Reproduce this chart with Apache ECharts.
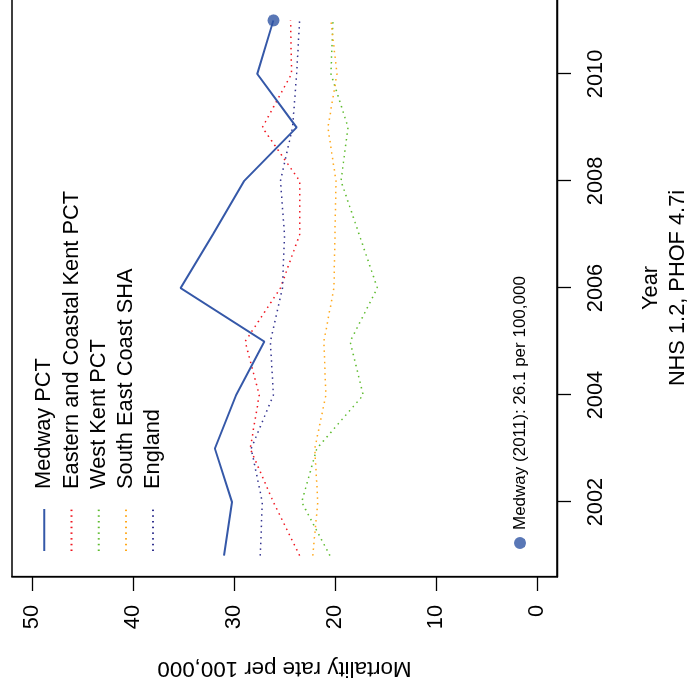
<!DOCTYPE html>
<html>
<head>
<meta charset="utf-8">
<script src="https://cdn.jsdelivr.net/npm/echarts@6/dist/echarts.min.js"></script>
<style>
  html, body { margin: 0; padding: 0; background: #ffffff; overflow: hidden; }
  body { width: 688px; height: 692px; position: relative; }
  /* The plot is laid out upright (692 x 688) and turned a quarter-turn anticlockwise */
  #chart {
    position: absolute; left: -2px; top: 2px;
    width: 692px; height: 688px;
    transform: rotate(-90deg);
    transform-origin: 50% 50%;
  }
</style>
</head>
<body>
<div id="chart"></div>
<script>
// Mortality rate per 100,000 by year
const years = [2001, 2002, 2003, 2004, 2005, 2006, 2007, 2008, 2009, 2010, 2011];
const medway   = [31.0, 30.2, 31.9, 29.8, 27.0, 35.3, 32.1, 29.0, 23.8, 27.7, 26.1];
const eastKent = [23.5, 26.1, 28.4, 27.5, 28.9, 25.4, 23.5, 23.5, 27.2, 24.3, 24.4];
const westKent = [20.5, 23.3, 21.8, 17.2, 18.5, 15.8, 17.6, 19.4, 18.7, 20.4, 20.2];
const seCoast  = [22.2, 21.7, 22.0, 20.9, 21.1, 20.1, 20.0, 19.9, 20.7, 19.8, 20.4];
const england  = [27.4, 27.2, 28.3, 26.1, 26.4, 25.2, 25.0, 25.4, 24.2, 23.8, 23.5];

const yearTicks = [2002, 2004, 2006, 2008, 2010];
const rateTicks = [0, 10, 20, 30, 40, 50];

const seriesNames = ['Medway PCT', 'Eastern and Coastal Kent PCT', 'West Kent PCT', 'South East Coast SHA', 'England'];
const latestYear = 2011;
const latestLabel = 'Medway (' + latestYear + '): ' + medway[medway.length - 1] + ' per 100,000';

const FONT = '"Liberation Sans", Arial, Helvetica, sans-serif';
const pairs = (vals) => years.map((y, i) => [y, vals[i]]);

const dotted = (color) => ({
  type: 'line', symbol: 'none', silent: true,
  itemStyle: { color: color },
  lineStyle: { color: color, width: 1.5, type: [1.5, 4.2], cap: 'butt' }
});

const chart = echarts.init(document.getElementById('chart'), null, { renderer: 'canvas' });
chart.setOption({
  animation: false,
  backgroundColor: '#ffffff',
  textStyle: { fontFamily: FONT },
  grid: {
    left: 115, right: -1, top: 12, bottom: 131,
    containLabel: false, outerBoundsMode: 'none',
    show: true, borderColor: '#000000', borderWidth: 1.3, backgroundColor: 'transparent'
  },
  xAxis: {
    type: 'value', min: 2000.6, max: 2011.4,
    axisLine: { show: true, onZero: false, lineStyle: { color: '#000', width: 1.3 } },
    splitLine: { show: false },
    axisTick: { show: true, inside: false, customValues: yearTicks, length: 14, lineStyle: { color: '#000', width: 1.3 } },
    axisLabel: { customValues: yearTicks, fontSize: 21.8, color: '#000', margin: 28, fontFamily: FONT, formatter: (v) => String(v) },
    name: 'Year\nNHS 1.2, PHOF 4.7i',
    nameLocation: 'middle', nameGap: 80,
    nameTextStyle: { fontSize: 21.8, color: '#000', lineHeight: 27, fontFamily: FONT }
  },
  yAxis: {
    type: 'value', min: -2, max: 52,
    axisLine: { show: true, onZero: false, lineStyle: { color: '#000', width: 1.3 } },
    splitLine: { show: false },
    axisTick: { show: true, inside: false, customValues: rateTicks, length: 14, lineStyle: { color: '#000', width: 1.3 } },
    axisLabel: { customValues: rateTicks, fontSize: 21.8, color: '#000', margin: 28, fontFamily: FONT },
    name: 'Mortality rate per 100,000',
    nameLocation: 'middle', nameGap: 80,
    nameTextStyle: { fontSize: 22.3, color: '#000', fontFamily: FONT }
  },
  legend: [
    {
      data: seriesNames,
      orient: 'vertical', left: 135, top: 25.7,
      itemWidth: 42, itemHeight: 14, itemGap: 0,
      selectedMode: false,
      itemStyle: { opacity: 0 },
      textStyle: { fontSize: 21.8, color: '#000', lineHeight: 27.2, padding: [0, 0, 0, 15], fontFamily: FONT }
    },
    {
      data: [latestLabel],
      orient: 'vertical', left: 138, top: 503,
      icon: 'circle', itemWidth: 12, itemHeight: 12,
      selectedMode: false,
      textStyle: { fontSize: 17, color: '#000', lineHeight: 24, padding: [0, 0, 0, 2], fontFamily: FONT }
    }
  ],
  series: [
    {
      name: 'Medway PCT', type: 'line', symbol: 'none', silent: true,
      itemStyle: { color: '#3558A8' },
      lineStyle: { color: '#3558A8', width: 2 },
      data: pairs(medway), z: 5
    },
    Object.assign(dotted('#F0141E'), { name: 'Eastern and Coastal Kent PCT', data: pairs(eastKent) }),
    Object.assign(dotted('#5DBB2E'), { name: 'West Kent PCT', data: pairs(westKent) }),
    Object.assign(dotted('#FFA81A'), { name: 'South East Coast SHA', data: pairs(seCoast) }),
    Object.assign(dotted('#33338F'), { name: 'England', data: pairs(england) }),
    {
      name: latestLabel, type: 'scatter', silent: true,
      symbol: 'circle', symbolSize: 12,
      itemStyle: { color: '#2F55A4' },
      data: [[latestYear, medway[medway.length - 1]]], z: 6
    }
  ]
});
</script>
</body>
</html>
